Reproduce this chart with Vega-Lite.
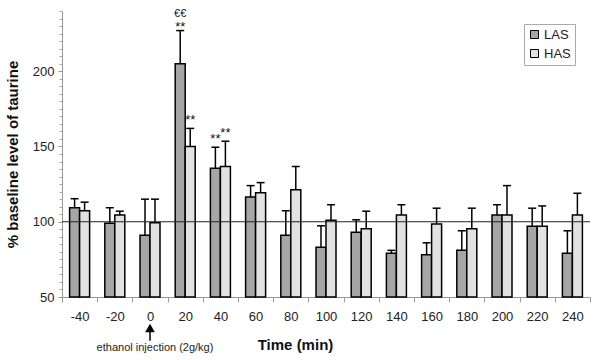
{
  "$schema": "https://vega.github.io/schema/vega-lite/v6.json",
  "width": 528,
  "height": 286,
  "autosize": {"type": "none"},
  "padding": {"left": 62, "top": 11, "right": 5, "bottom": 63},
  "config": {"view": {"stroke": null}, "font": "Liberation Sans"},
  "resolve": {"axis": {"y": "independent"}},
  "data": {
    "values": [
      {"time": -40, "group": "LAS", "value": 109.3, "err": 115.3, "note": null, "note2": null},
      {"time": -40, "group": "HAS", "value": 107.3, "err": 113, "note": null, "note2": null},
      {"time": -20, "group": "LAS", "value": 99, "err": 109.3, "note": null, "note2": null},
      {"time": -20, "group": "HAS", "value": 104.5, "err": 107, "note": null, "note2": null},
      {"time": 0, "group": "LAS", "value": 91, "err": 115, "note": null, "note2": null},
      {"time": 0, "group": "HAS", "value": 99.3, "err": 115, "note": null, "note2": null},
      {"time": 20, "group": "LAS", "value": 205, "err": 227, "note": "**", "note2": "€€"},
      {"time": 20, "group": "HAS", "value": 150, "err": 162, "note": "**", "note2": null},
      {"time": 40, "group": "LAS", "value": 135.5, "err": 149.5, "note": "**", "note2": null},
      {"time": 40, "group": "HAS", "value": 136.7, "err": 153.5, "note": "**", "note2": null},
      {"time": 60, "group": "LAS", "value": 116.5, "err": 124, "note": null, "note2": null},
      {"time": 60, "group": "HAS", "value": 119.3, "err": 126, "note": null, "note2": null},
      {"time": 80, "group": "LAS", "value": 91, "err": 107.3, "note": null, "note2": null},
      {"time": 80, "group": "HAS", "value": 121.3, "err": 136.7, "note": null, "note2": null},
      {"time": 100, "group": "LAS", "value": 83, "err": 97.3, "note": null, "note2": null},
      {"time": 100, "group": "HAS", "value": 101, "err": 111.3, "note": null, "note2": null},
      {"time": 120, "group": "LAS", "value": 93, "err": 101.3, "note": null, "note2": null},
      {"time": 120, "group": "HAS", "value": 95.3, "err": 107, "note": null, "note2": null},
      {"time": 140, "group": "LAS", "value": 79, "err": 81, "note": null, "note2": null},
      {"time": 140, "group": "HAS", "value": 104.5, "err": 111.3, "note": null, "note2": null},
      {"time": 160, "group": "LAS", "value": 78, "err": 86, "note": null, "note2": null},
      {"time": 160, "group": "HAS", "value": 98.5, "err": 109, "note": null, "note2": null},
      {"time": 180, "group": "LAS", "value": 81, "err": 94, "note": null, "note2": null},
      {"time": 180, "group": "HAS", "value": 95.3, "err": 109, "note": null, "note2": null},
      {"time": 200, "group": "LAS", "value": 104.5, "err": 111.3, "note": null, "note2": null},
      {"time": 200, "group": "HAS", "value": 104.5, "err": 124, "note": null, "note2": null},
      {"time": 220, "group": "LAS", "value": 97, "err": 109, "note": null, "note2": null},
      {"time": 220, "group": "HAS", "value": 97, "err": 110.5, "note": null, "note2": null},
      {"time": 240, "group": "LAS", "value": 79, "err": 94, "note": null, "note2": null},
      {"time": 240, "group": "HAS", "value": 104.5, "err": 119, "note": null, "note2": null}
    ]
  },
  "encoding": {
    "x": {
      "field": "time",
      "type": "ordinal",
      "scale": {"paddingInner": 0, "paddingOuter": 0},
      "axis": {
        "title": "Time (min)",
        "titleFontSize": 15,
        "titleFontWeight": "bold",
        "titleColor": "#111",
        "titleX": 233,
        "titleY": 47,
        "titleBaseline": "middle",
        "labelAngle": 0,
        "labelFontSize": 13,
        "labelColor": "#222",
        "tickBand": "extent",
        "tickSize": 5,
        "tickColor": "#999",
        "domainColor": "#999",
        "labelPadding": 8
      }
    }
  },
  "layer": [
    {
      "mark": {"type": "bar", "stroke": "black", "strokeWidth": 1.5},
      "encoding": {
        "xOffset": {"field": "group", "sort": ["LAS", "HAS"], "scale": {"paddingInner": 0, "paddingOuter": 0.76}},
        "y": {
          "field": "value",
          "type": "quantitative",
          "scale": {"domain": [50, 240], "nice": false, "zero": false},
          "axis": {
            "title": "% baseline level of taurine",
            "titleFontSize": 15,
            "titleFontWeight": "bold",
            "titleColor": "#111",
            "titleX": -42,
            "values": [50, 100, 150, 200],
            "labelOverlap": false,
            "tickSize": 4,
            "tickColor": "#999",
            "domainColor": "#999",
            "labelFontSize": 13,
            "labelColor": "#222",
            "labelPadding": 4,
            "grid": false
          }
        },
        "y2": {"datum": 50},
        "color": {
          "field": "group",
          "type": "nominal",
          "scale": {"domain": ["LAS", "HAS"], "range": ["#a6a6a6", "#e2e2e2"]},
          "legend": {
            "orient": "none",
            "legendX": 462,
            "legendY": 13,
            "title": null,
            "padding": 4,
            "strokeColor": "#aaa",
            "symbolType": "square",
            "symbolSize": 64,
            "symbolStrokeColor": "black",
            "symbolStrokeWidth": 1,
            "labelFontSize": 13,
            "labelColor": "#222",
            "labelOffset": 3,
            "rowPadding": 5
          }
        }
      }
    },
    {
      "mark": {"type": "rule", "color": "black", "strokeWidth": 1.5},
      "encoding": {
        "xOffset": {"field": "group", "sort": ["LAS", "HAS"]},
        "y": {"field": "value", "type": "quantitative", "axis": null},
        "y2": {"field": "err"}
      }
    },
    {
      "mark": {"type": "tick", "orient": "horizontal", "size": 8, "thickness": 1.5, "color": "black", "opacity": 1},
      "encoding": {
        "xOffset": {"field": "group", "sort": ["LAS", "HAS"]},
        "y": {"field": "err", "type": "quantitative", "axis": null}
      }
    },
    {
      "transform": [{"filter": "datum.note && !datum.note2"}],
      "mark": {"type": "text", "baseline": "bottom", "dy": -1, "fontSize": 13, "color": "#111"},
      "encoding": {
        "xOffset": {"field": "group", "sort": ["LAS", "HAS"]},
        "y": {"field": "err", "type": "quantitative", "axis": null},
        "text": {"field": "note"}
      }
    },
    {
      "transform": [{"filter": "datum.note2"}],
      "mark": {"type": "text", "baseline": "bottom", "dy": 3, "fontSize": 13, "color": "#111"},
      "encoding": {
        "xOffset": {"field": "group", "sort": ["LAS", "HAS"]},
        "y": {"field": "err", "type": "quantitative", "axis": null},
        "text": {"field": "note"}
      }
    },
    {
      "transform": [{"filter": "datum.note2"}],
      "mark": {"type": "text", "baseline": "middle", "dy": -17, "fontSize": 11, "color": "#111"},
      "encoding": {
        "xOffset": {"field": "group", "sort": ["LAS", "HAS"]},
        "y": {"field": "err", "type": "quantitative", "axis": null},
        "text": {"field": "note2"}
      }
    },
    {
      "data": {"values": [{}]},
      "mark": {"type": "rule", "color": "#222", "strokeWidth": 1.2},
      "encoding": {
        "x": null,
        "y": {
          "datum": 100,
          "type": "quantitative",
          "axis": {
            "orient": "left",
            "title": null,
            "labels": false,
            "domain": false,
            "grid": false,
            "tickSize": 3,
            "tickColor": "#aaa",
            "values": [55,60,65,70,75,80,85,90,95,105,110,115,120,125,130,135,140,145,155,160,165,170,175,180,185,190,195,205,210,215,220,225,230,235,240]
          }
        }
      }
    },
    {
      "data": {"values": [{}]},
      "mark": {"type": "point", "shape": "triangle-up", "filled": true, "color": "black", "size": 95, "opacity": 1},
      "encoding": {"x": {"datum": 0}, "y": {"datum": 29.4, "axis": null}}
    },
    {
      "data": {"values": [{}]},
      "mark": {"type": "rule", "color": "black", "strokeWidth": 1.5},
      "encoding": {"x": {"datum": 0}, "y": {"datum": 27.4, "axis": null}, "y2": {"datum": 21}}
    },
    {
      "data": {"values": [{}]},
      "mark": {"type": "text", "fontSize": 11, "dx": 5, "baseline": "middle", "color": "#222"},
      "encoding": {"x": {"datum": 0}, "y": {"datum": 16, "axis": null}, "text": {"value": "ethanol injection (2g/kg)"}}
    }
  ]
}
